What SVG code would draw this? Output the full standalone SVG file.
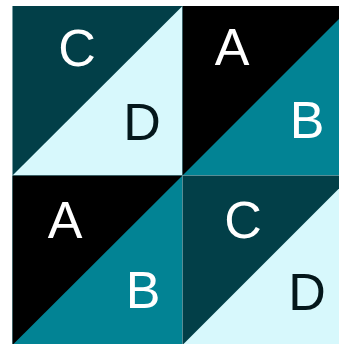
<svg xmlns="http://www.w3.org/2000/svg" width="339" height="344" viewBox="0 0 339 344">
<style>
.lbl{font-family:"Liberation Sans",Arial,sans-serif;font-size:52px;text-anchor:middle}
.w{fill:#ffffff}
.k{fill:#04171b}
.cC{fill:#023f48}
.cD{fill:#d7f8fc}
.cA{fill:#000000}
.cB{fill:#028394}
</style>
<rect width="339" height="344" fill="#ffffff"/>
<g id="cell-tl">
<polygon class="cD" points="12.5,6 182.5,6 182.5,175.5 12.5,175.5"/>
<polygon class="cC" points="12.5,6 182.5,6 12.5,175.5"/>
<text class="lbl w" x="77" y="66">C</text>
<text class="lbl k" x="142" y="140">D</text>
</g>
<g id="cell-tr">
<polygon class="cB" points="182.5,6 352,6 352,175.5 182.5,175.5"/>
<polygon class="cA" points="182.5,6 352,6 182.5,175.5"/>
<text class="lbl w" x="232" y="65">A</text>
<text class="lbl w" x="307" y="138">B</text>
</g>
<g id="cell-bl">
<polygon class="cB" points="12.5,175.5 182.5,175.5 182.5,345 12.5,345"/>
<polygon class="cA" points="12.5,175.5 182.5,175.5 12.5,345"/>
<text class="lbl w" x="65" y="238">A</text>
<text class="lbl w" x="143" y="308">B</text>
</g>
<g id="cell-br">
<polygon class="cD" points="182.5,175.5 352,175.5 352,345 182.5,345"/>
<polygon class="cC" points="182.5,175.5 352,175.5 182.5,345"/>
<text class="lbl w" x="243" y="238">C</text>
<text class="lbl k" x="307" y="310">D</text>
</g>
<g id="connectors"></g>
</svg>
